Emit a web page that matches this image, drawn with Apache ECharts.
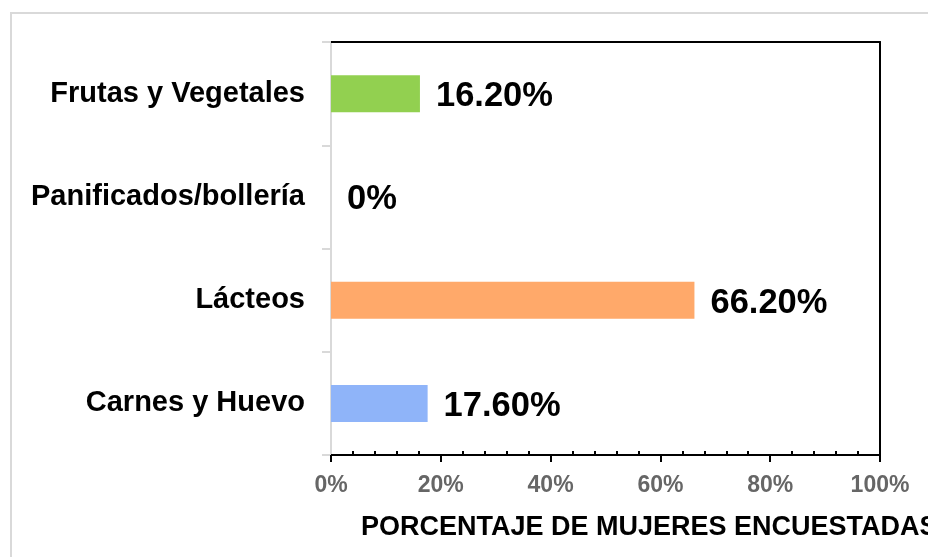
<!DOCTYPE html>
<html>
<head>
<meta charset="utf-8">
<script src="https://cdn.jsdelivr.net/npm/echarts@6/dist/echarts.min.js"></script>
<style>html,body{margin:0;padding:0;background:#fff}#c{width:928px;height:557px}</style>
</head>
<body>
<div id="c"></div>
<script>
const categories = ['Carnes y Huevo', 'Lácteos', 'Panificados/bollería', 'Frutas y Vegetales'];
const values = [17.6, 66.2, 0, 16.2];
const barColors = ['#8fb4f9', '#ffa96a', '#b0b0b0', '#92d050'];
const xTicks = [0, 20, 40, 60, 80, 100];
const axisTitle = 'PORCENTAJE DE MUJERES ENCUESTADAS';

const FONT = 'Arial, "Liberation Sans", sans-serif';
const chart = echarts.init(document.getElementById('c'), null, {renderer: 'canvas'});
chart.setOption({
  backgroundColor: '#fff',
  animation: false,
  graphic: [{
    type: 'rect', silent: true, z: -10,
    shape: {x: 11, y: 13, width: 1000, height: 700},
    style: {fill: 'none', stroke: '#d9d9d9', lineWidth: 2}
  }],
  title: {
    text: axisTitle, left: 356, top: 509,
    textStyle: {fontFamily: FONT, fontSize: 27, fontWeight: 'bold', color: '#000'}
  },
  grid: {left: 331, right: 48, top: 42, bottom: 102, containLabel: false},
  xAxis: [{
    type: 'value', position: 'bottom',
    min: xTicks[0], max: xTicks[xTicks.length - 1], interval: 20,
    axisLine: {show: true, onZero: false, lineStyle: {color: '#000', width: 2}},
    axisTick: {show: true, length: 7, lineStyle: {color: '#000', width: 2}},
    minorTick: {show: true, splitNumber: 5, length: -4, lineStyle: {color: '#000', width: 2}},
    splitLine: {show: false},
    axisLabel: {formatter: '{value}%', fontFamily: FONT, fontSize: 23, fontWeight: 'bold', color: '#666', margin: 19}
  }, {
    type: 'value', position: 'top', min: 0, max: 100,
    axisLine: {show: true, onZero: false, lineStyle: {color: '#000', width: 2}},
    axisTick: {show: false}, axisLabel: {show: false}, splitLine: {show: false}
  }],
  yAxis: [{
    type: 'category', data: categories, position: 'left',
    axisLine: {show: true, onZero: false, lineStyle: {color: '#d9d9d9', width: 2}},
    axisTick: {show: true, length: 9, lineStyle: {color: '#d9d9d9', width: 2}},
    axisLabel: {fontFamily: FONT, fontSize: 29, fontWeight: 'bold', color: '#000', margin: 26}
  }, {
    type: 'value', position: 'right', min: 0, max: 1,
    axisLine: {show: true, onZero: false, lineStyle: {color: '#000', width: 2}},
    axisTick: {show: false}, axisLabel: {show: false}, splitLine: {show: false}
  }],
  series: [{
    type: 'bar', xAxisIndex: 0, yAxisIndex: 0,
    data: values.map((v, i) => ({value: v, itemStyle: {color: barColors[i]}})),
    barWidth: 37,
    label: {
      show: true, position: 'right', distance: 16, offset: [0, 3],
      fontFamily: FONT, fontSize: 34.5, fontWeight: 'bold', color: '#000',
      formatter: p => (p.value === 0 ? '0' : p.value.toFixed(2)) + '%'
    }
  }]
});
</script>
</body>
</html>
